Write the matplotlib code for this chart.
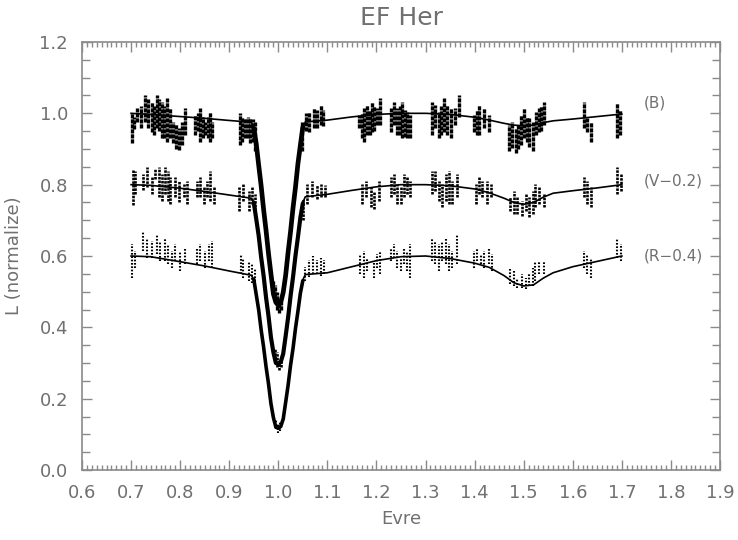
import matplotlib
matplotlib.use("Agg")
import matplotlib.pyplot as plt
from matplotlib.ticker import MultipleLocator, FormatStrFormatter

# ---------------- model light curves ----------------
model_phase = [0.70, 0.74, 0.80, 0.85, 0.90,
               0.945, 0.950, 0.955, 0.960, 0.965, 0.970, 0.975, 0.980, 0.985, 0.990, 0.995,
               1.000, 1.005, 1.010, 1.015, 1.020, 1.025, 1.030, 1.035, 1.040, 1.045, 1.050, 1.055,
               1.10, 1.15, 1.20, 1.25, 1.30, 1.35, 1.40, 1.43, 1.46, 1.48, 1.50, 1.52, 1.54,
               1.56, 1.60, 1.65, 1.70]
model_B = [1.000, 0.997, 0.991, 0.986, 0.980,
           0.975, 0.960, 0.913, 0.857, 0.795, 0.733, 0.671, 0.609, 0.548, 0.496, 0.468,
           0.460, 0.468, 0.496, 0.548, 0.609, 0.671, 0.733, 0.795, 0.857, 0.913, 0.960, 0.976,
           0.981, 0.990, 0.997, 1.000, 1.000, 0.997, 0.989, 0.981, 0.972, 0.967, 0.965, 0.967, 0.974,
           0.979, 0.984, 0.991, 0.998]
model_V = [0.800, 0.798, 0.790, 0.781, 0.771,
           0.762, 0.748, 0.706, 0.655, 0.599, 0.543, 0.486, 0.430, 0.374, 0.328, 0.302,
           0.295, 0.302, 0.328, 0.374, 0.430, 0.486, 0.543, 0.599, 0.655, 0.706, 0.750, 0.766,
           0.773, 0.784, 0.794, 0.800, 0.800, 0.797, 0.788, 0.777, 0.762, 0.750, 0.745, 0.750, 0.765,
           0.776, 0.783, 0.791, 0.800]
model_R = [0.600, 0.598, 0.584, 0.572, 0.558,
           0.546, 0.533, 0.494, 0.447, 0.395, 0.343, 0.292, 0.240, 0.188, 0.145, 0.121,
           0.115, 0.121, 0.145, 0.188, 0.240, 0.292, 0.343, 0.395, 0.447, 0.494, 0.533, 0.548,
           0.553, 0.570, 0.587, 0.598, 0.600, 0.593, 0.580, 0.568, 0.545, 0.525, 0.516, 0.519, 0.538,
           0.553, 0.570, 0.585, 0.600]

# ---------------- observations inside primary eclipse ----------------
ecl_phase = [0.950, 0.955, 0.960, 0.965, 0.970, 0.975, 0.980, 0.985, 0.990, 0.995, 1.000,
             1.005, 1.010, 1.015, 1.020, 1.025, 1.030, 1.035, 1.040, 1.045, 1.050]
ecl_B = [0.958, 0.915, 0.855, 0.797, 0.731, 0.672, 0.607, 0.550, 0.494, 0.470, 0.462,
         0.470, 0.498, 0.546, 0.611, 0.669, 0.735, 0.793, 0.859, 0.911, 0.962]
ecl_V = [0.750, 0.704, 0.657, 0.597, 0.545, 0.484, 0.432, 0.372, 0.330, 0.300, 0.297,
         0.303, 0.326, 0.376, 0.428, 0.488, 0.541, 0.601, 0.653, 0.708, 0.748]
ecl_R = [0.535, 0.492, 0.449, 0.393, 0.345, 0.290, 0.242, 0.186, 0.147, 0.120, 0.117,
         0.122, 0.143, 0.190, 0.238, 0.294, 0.341, 0.397, 0.445, 0.496, 0.531]

# ---------------- observed runs (phase, low, high) out of eclipse ----------------
B_ph = [0.701, 0.706, 0.712, 0.720, 0.729, 0.735, 0.742, 0.747, 0.752, 0.757, 0.763, 0.768,
        0.773, 0.780, 0.786, 0.792, 0.797, 0.803, 0.810, 0.831, 0.836, 0.841, 0.846, 0.851,
        0.856, 0.860, 0.865, 0.922, 0.927, 0.933, 0.938, 0.943, 0.948, 0.953,
        0.990, 0.994, 0.998, 1.002, 1.006,
        1.048, 1.056, 1.062, 1.072, 1.078, 1.086, 1.092,
        1.165, 1.170, 1.174, 1.181, 1.186, 1.191, 1.196, 1.201, 1.208,
        1.229, 1.235, 1.242, 1.247, 1.252, 1.258, 1.263, 1.269,
        1.314, 1.320, 1.327, 1.332, 1.337, 1.344, 1.351, 1.361, 1.368,
        1.399, 1.405, 1.409, 1.419, 1.429,
        1.470, 1.477, 1.484, 1.489, 1.494, 1.501, 1.506, 1.511, 1.518, 1.525, 1.531, 1.536, 1.541,
        1.623, 1.630, 1.637, 1.691, 1.697]
B_lo = [0.916, 0.955, 0.977, 0.960, 0.977, 0.960, 0.949, 0.940, 0.958, 0.950, 0.930, 0.930,
        0.921, 0.930, 0.916, 0.900, 0.897, 0.911, 0.939, 0.939, 0.950, 0.921, 0.930, 0.939,
        0.930, 0.921, 0.930, 0.911, 0.920, 0.930, 0.930, 0.916, 0.920, 0.893,
        0.490, 0.475, 0.450, 0.440, 0.450,
        0.893, 0.950, 0.949, 0.958, 0.960, 0.967, 0.965,
        0.958, 0.930, 0.921, 0.939, 0.940, 0.949, 0.950, 0.967, 0.967,
        0.949, 0.967, 0.939, 0.940, 0.930, 0.935, 0.930, 0.930,
        0.939, 0.958, 0.930, 0.940, 0.949, 0.939, 0.930, 0.967, 0.990,
        0.949, 0.940, 0.939, 0.958, 0.949,
        0.893, 0.902, 0.888, 0.900, 0.911, 0.930, 0.920, 0.907, 0.893, 0.939, 0.949, 0.950, 0.967,
        0.958, 0.949, 0.921, 0.930, 0.940]
B_hi = [1.000, 0.990, 1.014, 1.020, 1.051, 1.040, 1.033, 1.020, 1.051, 1.040, 1.033, 1.020,
        1.042, 1.014, 0.977, 0.970, 0.958, 0.977, 1.014, 0.995, 1.000, 1.014, 0.990, 0.977,
        0.990, 1.005, 0.977, 1.000, 0.990, 0.986, 0.990, 0.986, 0.985, 0.977,
        0.530, 0.520, 0.500, 0.480, 0.470,
        0.977, 1.000, 1.005, 1.014, 1.010, 1.023, 1.010,
        0.995, 1.000, 1.014, 1.023, 1.010, 1.033, 1.020, 1.014, 1.042,
        1.014, 1.033, 1.014, 1.020, 1.033, 1.010, 1.005, 0.995,
        1.033, 1.023, 1.005, 1.020, 1.042, 1.023, 1.014, 1.014, 1.051,
        0.995, 1.010, 1.023, 1.014, 0.995,
        0.967, 0.977, 0.958, 0.970, 0.995, 1.014, 0.990, 0.986, 0.977, 1.005, 1.014, 1.020, 1.033,
        1.033, 0.986, 0.977, 1.028, 1.010]

V_ph = [0.703, 0.708, 0.725, 0.732, 0.742, 0.749, 0.756, 0.763, 0.769, 0.776, 0.780, 0.790,
        0.797, 0.807, 0.814, 0.834, 0.841, 0.848, 0.855, 0.861, 0.868,
        0.919, 0.929, 0.940, 0.946, 0.953,
        0.994, 0.998, 1.002, 1.006,
        1.050, 1.059, 1.069, 1.079, 1.086, 1.096,
        1.171, 1.178, 1.188, 1.195, 1.205, 1.229, 1.235, 1.242, 1.249, 1.256, 1.263, 1.269,
        1.314, 1.320, 1.327, 1.334, 1.341, 1.348, 1.354, 1.365,
        1.402, 1.409, 1.416, 1.426, 1.433,
        1.473, 1.480, 1.487, 1.497, 1.504, 1.511, 1.518, 1.524, 1.531, 1.541,
        1.623, 1.630, 1.637, 1.691, 1.698]
V_lo = [0.742, 0.774, 0.784, 0.793, 0.774, 0.816, 0.765, 0.755, 0.774, 0.755, 0.746, 0.765,
        0.751, 0.765, 0.746, 0.765, 0.765, 0.746, 0.765, 0.755, 0.746,
        0.727, 0.755, 0.727, 0.746, 0.718,
        0.310, 0.290, 0.280, 0.290,
        0.700, 0.746, 0.765, 0.760, 0.765, 0.765,
        0.746, 0.765, 0.737, 0.732, 0.755, 0.765, 0.774, 0.746, 0.746, 0.765, 0.774, 0.765,
        0.774, 0.783, 0.755, 0.737, 0.755, 0.746, 0.746, 0.765,
        0.746, 0.774, 0.765, 0.746, 0.765,
        0.727, 0.718, 0.718, 0.713, 0.727, 0.708, 0.718, 0.737, 0.746, 0.737,
        0.765, 0.746, 0.737, 0.774, 0.783]
V_hi = [0.844, 0.839, 0.830, 0.849, 0.821, 0.844, 0.849, 0.830, 0.849, 0.839, 0.821, 0.821,
        0.811, 0.802, 0.811, 0.811, 0.821, 0.793, 0.811, 0.839, 0.793,
        0.793, 0.802, 0.783, 0.793, 0.774,
        0.340, 0.330, 0.310, 0.320,
        0.760, 0.802, 0.811, 0.800, 0.802, 0.800,
        0.802, 0.811, 0.793, 0.783, 0.811, 0.821, 0.830, 0.802, 0.793, 0.830, 0.821, 0.811,
        0.839, 0.839, 0.811, 0.802, 0.830, 0.839, 0.811, 0.830,
        0.802, 0.821, 0.811, 0.811, 0.802,
        0.765, 0.783, 0.765, 0.755, 0.774, 0.765, 0.783, 0.802, 0.793, 0.774,
        0.821, 0.811, 0.793, 0.849, 0.830]

R_ph = [0.701, 0.708, 0.725, 0.732, 0.742, 0.752, 0.759, 0.769, 0.776, 0.783, 0.790, 0.800,
        0.810, 0.834, 0.841, 0.851, 0.858, 0.865,
        0.923, 0.929, 0.940, 0.946, 0.953,
        0.996, 1.000, 1.004,
        1.055, 1.062, 1.070, 1.078, 1.086, 1.094,
        1.167, 1.174, 1.181, 1.195, 1.201, 1.208, 1.229, 1.235, 1.242, 1.249, 1.256, 1.263, 1.269,
        1.314, 1.320, 1.327, 1.334, 1.341, 1.348, 1.354, 1.365,
        1.399, 1.405, 1.412, 1.419, 1.429, 1.436,
        1.473, 1.480, 1.487, 1.497, 1.504, 1.511, 1.518, 1.524, 1.531, 1.541,
        1.623, 1.630, 1.637, 1.691, 1.698]
R_lo = [0.539, 0.567, 0.614, 0.595, 0.595, 0.605, 0.586, 0.586, 0.577, 0.567, 0.586, 0.558,
        0.577, 0.577, 0.586, 0.567, 0.586, 0.567,
        0.549, 0.539, 0.530, 0.525, 0.511,
        0.115, 0.105, 0.110,
        0.530, 0.540, 0.550, 0.550, 0.545, 0.550,
        0.549, 0.539, 0.558, 0.539, 0.567, 0.549, 0.586, 0.595, 0.567, 0.558, 0.577, 0.558, 0.539,
        0.586, 0.577, 0.558, 0.586, 0.577, 0.558, 0.567, 0.577,
        0.567, 0.586, 0.577, 0.567, 0.577, 0.558,
        0.521, 0.516, 0.511, 0.511, 0.507, 0.516, 0.516, 0.530, 0.549, 0.549,
        0.567, 0.549, 0.539, 0.595, 0.586]
R_hi = [0.633, 0.614, 0.670, 0.651, 0.642, 0.660, 0.642, 0.651, 0.633, 0.614, 0.633, 0.614,
        0.623, 0.623, 0.633, 0.614, 0.633, 0.642,
        0.605, 0.595, 0.586, 0.577, 0.567,
        0.140, 0.130, 0.135,
        0.570, 0.590, 0.600, 0.590, 0.595, 0.590,
        0.605, 0.614, 0.595, 0.586, 0.605, 0.614, 0.623, 0.633, 0.614, 0.595, 0.623, 0.614, 0.633,
        0.651, 0.642, 0.633, 0.642, 0.651, 0.633, 0.614, 0.661,
        0.614, 0.623, 0.605, 0.614, 0.623, 0.605,
        0.567, 0.558, 0.539, 0.549, 0.539, 0.549, 0.567, 0.586, 0.586, 0.586,
        0.614, 0.605, 0.595, 0.651, 0.633]

band_labels = ["(B)", "(V\u22120.2)", "(R\u22120.4)"]
label_y = [1.03, 0.81, 0.60]
x_ticks = [0.6, 0.7, 0.8, 0.9, 1.0, 1.1, 1.2, 1.3, 1.4, 1.5, 1.6, 1.7, 1.8, 1.9]
y_ticks = [0.0, 0.2, 0.4, 0.6, 0.8, 1.0, 1.2]

# ---------------- figure ----------------
txt = "#707070"
axc = "#8a8a8a"
plt.rcParams["font.family"] = ["DejaVu Sans"]
plt.rcParams["lines.scale_dashes"] = False
fig = plt.figure(figsize=(7.38, 5.40), dpi=100)
ax = fig.add_axes([82 / 738, 1 - 470 / 540, (720 - 82) / 738, (470 - 42) / 540])

# observed runs
ax.vlines(B_ph, B_lo, B_hi, colors="k", lw=2.4, linestyles=(0, (3.0, 0.6)))
ax.vlines(V_ph, V_lo, V_hi, colors="k", lw=1.9, linestyles=(0, (1.8, 0.8)))
ax.vlines(R_ph, R_lo, R_hi, colors="k", lw=1.5, linestyles=(0, (1.2, 1.2)))
ax.plot(ecl_phase, ecl_B, color="k", lw=3.4, solid_capstyle="round")
ax.plot(ecl_phase, ecl_V, color="k", lw=3.0, solid_capstyle="round")
ax.plot(ecl_phase, ecl_R, color="k", lw=2.6, solid_capstyle="round")

# models
for m in (model_B, model_V, model_R):
    ax.plot(model_phase, m, color="k", lw=1.2)

for lab, yy in zip(band_labels, label_y):
    ax.text(1.745, yy, lab, fontsize=11, color=txt, va="center", ha="left")

ax.set_xlim(0.6, 1.9)
ax.set_ylim(0.0, 1.2)
ax.set_xticks(x_ticks)
ax.set_yticks(y_ticks)
ax.xaxis.set_major_formatter(FormatStrFormatter("%.1f"))
ax.yaxis.set_major_formatter(FormatStrFormatter("%.1f"))
ax.xaxis.set_minor_locator(MultipleLocator(0.01))
ax.yaxis.set_minor_locator(MultipleLocator(0.05))
ax.tick_params(which="both", direction="in", top=True, right=True, color=axc,
               width=1.0, labelcolor=txt, labelsize=13)
ax.tick_params(which="major", length=7, pad=10)
ax.tick_params(axis="x", which="minor", length=3.5)
ax.tick_params(axis="y", which="minor", length=6)
for s in ax.spines.values():
    s.set_color(axc)
    s.set_linewidth(1.2)

ax.set_xlabel("Evre", fontsize=13, color=txt, labelpad=6)
ax.set_ylabel("L (normalize)", fontsize=13, color=txt, labelpad=12)
ax.set_title("EF Her", fontsize=18, color=txt, pad=12)

fig.savefig("out.png", dpi=100)
